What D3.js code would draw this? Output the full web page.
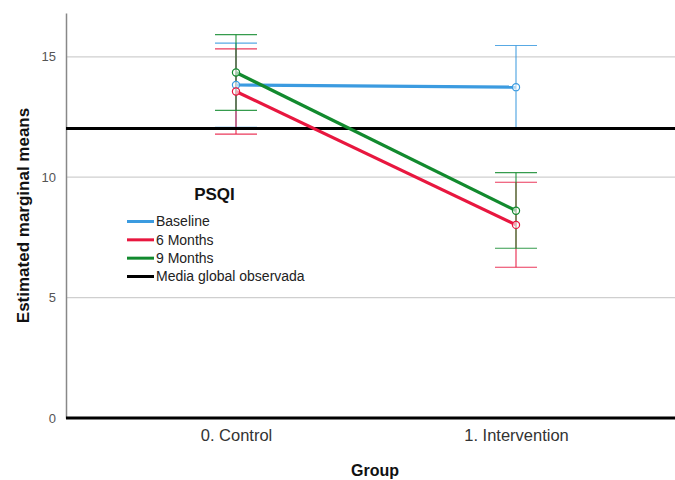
<!DOCTYPE html>
<html>
<head>
<meta charset="utf-8">
<script src="https://cdn.jsdelivr.net/npm/d3@7/dist/d3.min.js"></script>
<style>
  html, body { margin: 0; padding: 0; background: #fff; }
  svg { display: block; font-family: "Liberation Sans", Arial, sans-serif; }
</style>
</head>
<body>
<svg id="chart" width="675" height="480"></svg>
<script>
// Estimated marginal means of PSQI by group and time point
const groups = ["0. Control", "1. Intervention"];
const seriesNames = ["Baseline", "6 Months", "9 Months"];
const seriesColors = ["#3b9be0", "#e8173f", "#128a2e"];
const baselineMeans = [13.83, 13.74];
const baselineLower = [12.07, 12.02];
const baselineUpper = [15.57, 15.47];
const sixMonthMeans = [13.56, 8.02];
const sixMonthLower = [11.79, 6.26];
const sixMonthUpper = [15.33, 9.79];
const nineMonthMeans = [14.35, 8.61];
const nineMonthLower = [12.78, 7.05];
const nineMonthUpper = [15.92, 10.19];
const grandMean = 12.02;
const yTicks = [0, 5, 10, 15];

const series = [
  { name: seriesNames[0], color: seriesColors[0], mean: baselineMeans, lo: baselineLower, hi: baselineUpper },
  { name: seriesNames[1], color: seriesColors[1], mean: sixMonthMeans, lo: sixMonthLower, hi: sixMonthUpper },
  { name: seriesNames[2], color: seriesColors[2], mean: nineMonthMeans, lo: nineMonthLower, hi: nineMonthUpper }
];

const svg = d3.select("#chart");
const plotLeft = 66, plotRight = 675, plotTop = 13, plotBottom = 418;
const font = "'Liberation Sans', Arial, sans-serif";

const y = d3.scaleLinear().domain([0, 16.82]).range([plotBottom, plotTop]);
const x = d3.scalePoint().domain(groups).range([236, 516]);

// gridlines
svg.append("g").selectAll("line").data(yTicks.filter(d => d > 0)).join("line")
  .attr("x1", plotLeft).attr("x2", plotRight)
  .attr("y1", d => y(d)).attr("y2", d => y(d))
  .attr("stroke", "#cfcfcf").attr("stroke-width", 1.2);

// y axis
const yAxis = svg.append("g").attr("transform", `translate(${plotLeft},0)`)
  .call(d3.axisLeft(y).tickValues(yTicks).tickSize(0).tickPadding(10));
yAxis.select(".domain").attr("stroke", "#888").attr("stroke-width", 1.5);
yAxis.selectAll("text").attr("font-size", 13).attr("fill", "#555").attr("font-family", font);

// x axis labels
const xAxis = svg.append("g").attr("transform", `translate(0,${plotBottom})`)
  .call(d3.axisBottom(x).tickSize(0).tickPadding(11));
xAxis.select(".domain").remove();
xAxis.selectAll("text").attr("font-size", 16.5).attr("fill", "#333").attr("font-family", font);

// zero baseline
svg.append("line").attr("x1", plotLeft).attr("x2", plotRight)
  .attr("y1", y(0)).attr("y2", y(0))
  .attr("stroke", "#000").attr("stroke-width", 3);

// error bars
const capHalf = 21;
series.forEach(s => {
  const g = svg.append("g");
  groups.forEach((grp, i) => {
    const cx = x(grp);
    g.append("line").attr("x1", cx).attr("x2", cx)
      .attr("y1", y(s.lo[i])).attr("y2", y(s.hi[i]))
      .attr("stroke", s.color).attr("stroke-width", 1.2).attr("opacity", 0.85);
    [s.lo[i], s.hi[i]].forEach(v => {
      g.append("line").attr("x1", cx - capHalf).attr("x2", cx + capHalf)
        .attr("y1", y(v)).attr("y2", y(v))
        .attr("stroke", s.color).attr("stroke-width", 1.2).attr("opacity", 0.85);
    });
  });
});

// grand mean reference line
svg.append("line").attr("x1", plotLeft).attr("x2", plotRight)
  .attr("y1", y(grandMean)).attr("y2", y(grandMean))
  .attr("stroke", "#000").attr("stroke-width", 3);

// mean lines and markers
const line = d3.line().x((d, i) => x(groups[i])).y(d => y(d));
series.forEach(s => {
  svg.append("path").datum(s.mean).attr("d", line)
    .attr("fill", "none").attr("stroke", s.color).attr("stroke-width", 3.2);
  svg.append("g").selectAll("circle").data(s.mean).join("circle")
    .attr("cx", (d, i) => x(groups[i])).attr("cy", d => y(d)).attr("r", 3.6)
    .attr("fill", "#fff").attr("fill-opacity", 0.6)
    .attr("stroke", s.color).attr("stroke-width", 1.2);
});

// axis titles
svg.append("text").attr("x", 375).attr("y", 476).attr("text-anchor", "middle")
  .attr("font-size", 16).attr("font-weight", "bold").attr("fill", "#111").text("Group");
svg.append("text").attr("transform", `translate(29,${(plotTop + plotBottom) / 2}) rotate(-90)`)
  .attr("text-anchor", "middle").attr("font-size", 17).attr("font-weight", "bold")
  .attr("fill", "#111").text("Estimated marginal means");

// legend
const legend = svg.append("g");
legend.append("text").attr("x", 214.5).attr("y", 200).attr("text-anchor", "middle")
  .attr("font-size", 17).attr("font-weight", "bold").attr("fill", "#111").text("PSQI");
const legendItems = series.map(s => ({ name: s.name, color: s.color }))
  .concat([{ name: "Media global observada", color: "#000" }]);
const ly = d3.scalePoint().domain(legendItems.map(d => d.name)).range([221.5, 276.5]);
legendItems.forEach(d => {
  legend.append("line").attr("x1", 127).attr("x2", 154)
    .attr("y1", ly(d.name)).attr("y2", ly(d.name))
    .attr("stroke", d.color).attr("stroke-width", 3);
  legend.append("text").attr("x", 156).attr("y", ly(d.name)).attr("dy", "0.35em")
    .attr("font-size", 14).attr("fill", "#222").text(d.name);
});
</script>
</body>
</html>
